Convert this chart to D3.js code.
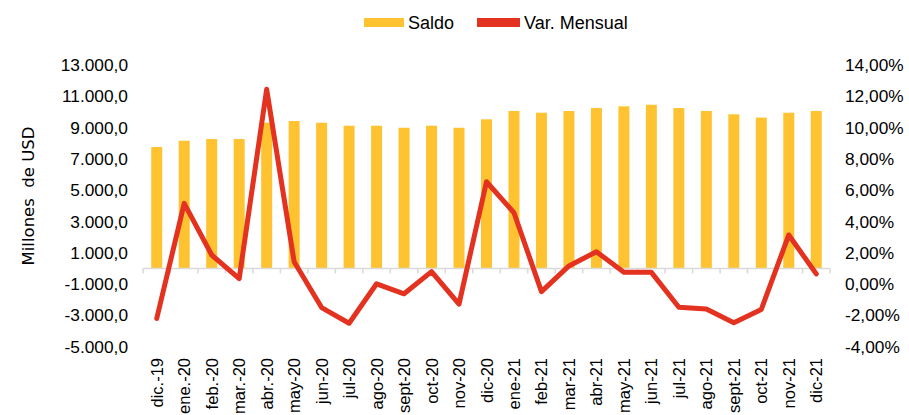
<!DOCTYPE html>
<html lang="es">
<head>
    <meta charset="UTF-8">
    <title>Saldo y variación mensual</title>
    <script src="https://cdn.jsdelivr.net/npm/d3@7"></script>
    <style>
        body{ margin:0; background:#fff; }
        svg{ display:block; font-family:"Liberation Sans", Arial, sans-serif; }
    </style>
</head>
<body>
<script type="text/javascript">

    let meses = ["dic.-19","ene.-20","feb.-20","mar.-20","abr.-20","may-20","jun-20","jul-20",
        "ago-20","sept-20","oct-20","nov-20","dic-20","ene-21","feb-21","mar-21","abr-21",
        "may-21","jun-21","jul-21","ago-21","sept-21","oct-21","nov-21","dic-21"];

    // saldo, millones de USD
    let saldo = [7760, 8160, 8270, 8270, 9310, 9420, 9310, 9120, 9120, 8990, 9120, 8990, 9530,
        10060, 9950, 10060, 10250, 10360, 10460, 10250, 10060, 9850, 9640, 9950, 10060];

    // variacion mensual, %
    let varMensual = [-2.2, 5.16, 1.86, 0.35, 12.45, 1.43, -1.5, -2.5, 0.02, -0.62, 0.8, -1.28, 6.54,
        4.56, -0.48, 1.16, 2.07, 0.75, 0.75, -1.48, -1.59, -2.47, -1.62, 3.14, 0.65];

    let ticksIzq = [-5000, -3000, -1000, 1000, 3000, 5000, 7000, 9000, 11000, 13000];
    let ticksDer = [-4, -2, 0, 2, 4, 6, 8, 10, 12, 14];

    let width = 909;
    let height = 415;
    let plotTop = 65, plotBottom = 346.7, plotLeft = 143, plotRight = 830;

    let svg = d3.select("body")
        .append("svg")
        .attr("width", width)
        .attr("height", height);

    let es = d3.formatLocale({decimal: ",", thousands: ".", grouping: [3], currency: ["", ""], minus: "-"});
    let fmtIzq = es.format(",.1f");
    let fmtDer = d => es.format(".2f")(d) + "%";

    let x = d3.scaleBand()
        .domain(meses)
        .range([plotLeft, plotRight]);

    let yIzq = d3.scaleLinear()
        .domain([-5000, 13000])
        .range([plotBottom, plotTop]);

    let yDer = d3.scaleLinear()
        .domain([-4, 14])
        .range([plotBottom, plotTop]);

    let barW = 11;

    // barras
    svg.append("g")
        .selectAll("rect")
        .data(saldo)
        .join("rect")
        .attr("x", (d, i) => x(meses[i]) + x.bandwidth() / 2 - barW / 2)
        .attr("y", d => yIzq(d))
        .attr("width", barW)
        .attr("height", d => yIzq(0) - yIzq(d))
        .attr("fill", "#ffc331");

    // eje x en el cero
    let xAxisGroup = svg.append("g")
        .attr("transform", `translate(0,${yIzq(0)})`);
    xAxisGroup.append("line")
        .attr("x1", plotLeft).attr("x2", plotRight)
        .attr("stroke", "#d9d9d9").attr("stroke-width", 1.5);
    xAxisGroup.selectAll(".tk")
        .data(meses.concat(["fin"]))
        .join("line")
        .attr("class", "tk")
        .attr("x1", (d, i) => plotLeft + i * x.step())
        .attr("x2", (d, i) => plotLeft + i * x.step())
        .attr("y1", 0).attr("y2", 5)
        .attr("stroke", "#d9d9d9").attr("stroke-width", 1.5);

    // etiquetas de meses
    svg.append("g")
        .selectAll("text")
        .data(meses)
        .join("text")
        .attr("transform", d => `translate(${x(d) + x.bandwidth() / 2 + 6},358) rotate(-90)`)
        .attr("text-anchor", "end")
        .attr("font-size", 16.5)
        .attr("fill", "#000")
        .text(d => d);

    // linea
    let line = d3.line()
        .x((d, i) => x(meses[i]) + x.bandwidth() / 2)
        .y(d => yDer(d));
    svg.append("path")
        .datum(varMensual)
        .attr("fill", "none")
        .attr("stroke", "#e3321f")
        .attr("stroke-width", 5)
        .attr("stroke-linejoin", "round")
        .attr("stroke-linecap", "round")
        .attr("d", line);

    // eje izquierdo
    let yAxisIzq = d3.axisLeft(yIzq).tickValues(ticksIzq).tickFormat(fmtIzq).tickSize(0).tickPadding(0);
    let gIzq = svg.append("g").attr("transform", "translate(128,0)");
    yAxisIzq(gIzq);
    gIzq.select(".domain").remove();
    gIzq.selectAll("text").attr("font-size", 17.3).attr("font-family", "Liberation Sans, Arial, sans-serif").attr("fill", "#000");

    // eje derecho
    let yAxisDer = d3.axisRight(yDer).tickValues(ticksDer).tickFormat(fmtDer).tickSize(0).tickPadding(0);
    let gDer = svg.append("g").attr("transform", "translate(845,0)");
    yAxisDer(gDer);
    gDer.select(".domain").remove();
    gDer.selectAll("text").attr("font-size", 17.3).attr("font-family", "Liberation Sans, Arial, sans-serif").attr("fill", "#000");

    // titulo eje
    svg.append("text")
        .attr("transform", "translate(34,196) rotate(-90)")
        .attr("text-anchor", "middle")
        .attr("xml:space", "preserve")
        .attr("font-family", "'DejaVu Sans', sans-serif")
        .attr("font-size", 16.5)
        .attr("fill", "#000")
        .style("white-space", "pre")
        .text("Millones  de USD");

    // leyenda
    let leyenda = [{name: "Saldo", color: "#ffc331", x: 364, w: 40}, {name: "Var. Mensual", color: "#e3321f", x: 477, w: 43}];
    let lg = svg.append("g");
    lg.selectAll("rect")
        .data(leyenda)
        .join("rect")
        .attr("x", d => d.x).attr("y", 18)
        .attr("width", d => d.w).attr("height", 9)
        .attr("fill", d => d.color);
    lg.selectAll("text")
        .data(leyenda)
        .join("text")
        .attr("x", d => d.x + d.w + 4).attr("y", 28.5)
        .attr("font-size", 18)
        .attr("fill", "#000")
        .text(d => d.name);
</script>
</body>
</html>
